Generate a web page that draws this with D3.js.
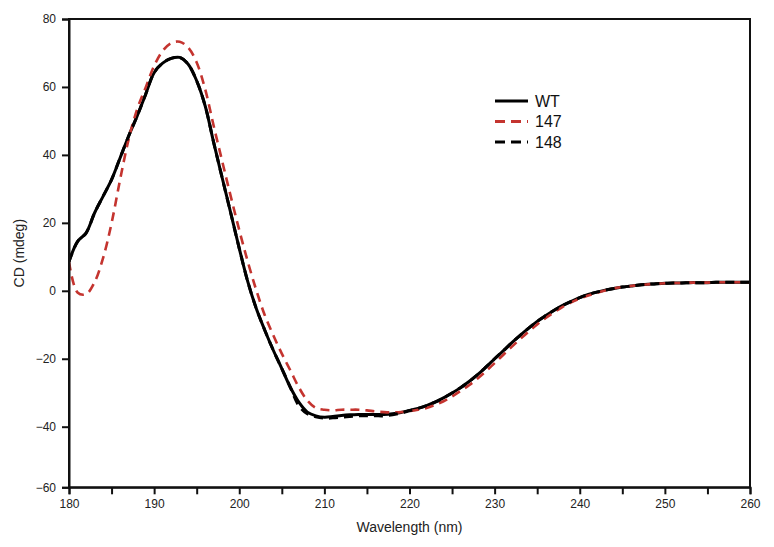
<!DOCTYPE html>
<html><head><meta charset="utf-8">
<script src="https://cdn.jsdelivr.net/npm/d3@7"></script>
<style>body{margin:0;background:#fff}svg{display:block}</style>
</head><body><svg id="c" width="774" height="547"></svg>
<script>
const wavelength = d3.range(180, 261);
const wt = [8.6,14.5,17.0,22.9,27.8,32.7,39.1,45.5,51.4,57.8,
 64.2,67.0,68.4,68.7,66.7,61.8,54.4,43.6,33.2,22.9,
 12.5,2.7,-5.2,-11.6,-17.5,-22.9,-28.4,-32.8,-35.7,-36.8,
 -37.2,-37.0,-36.7,-36.5,-36.4,-36.4,-36.4,-36.4,-36.2,-35.8,
 -35.2,-34.6,-33.8,-32.8,-31.5,-30.1,-28.5,-26.7,-24.7,-22.4,
 -20.0,-17.7,-15.3,-13.1,-11.0,-9.0,-7.3,-5.7,-4.3,-3.1,
 -2.0,-1.1,-0.4,0.2,0.7,1.1,1.4,1.7,1.9,2.1,
 2.2,2.3,2.3,2.4,2.4,2.4,2.5,2.5,2.5,2.5,2.5];
const m147 = [8.6,-0.5,-1.0,2.5,9.6,19.9,32.7,44.5,53.4,59.8,
 66.2,70.6,72.9,73.3,71.6,67.2,59.3,48.5,38.1,27.8,
 17.9,8.6,0.2,-7.2,-13.1,-18.5,-23.4,-28.4,-32.3,-34.5,
 -35.0,-35.2,-35.0,-35.0,-35.0,-35.2,-35.5,-35.7,-35.8,-35.7,
 -35.4,-35.0,-34.5,-33.6,-32.5,-31.1,-29.5,-27.8,-25.8,-23.6,
 -21.3,-18.9,-16.5,-14.2,-12.0,-9.9,-8.0,-6.3,-4.7,-3.4,
 -2.3,-1.4,-0.6,0.1,0.7,1.1,1.4,1.7,1.9,2.1,
 2.2,2.3,2.3,2.4,2.4,2.4,2.5,2.5,2.5,2.5,2.5];
const m148 = [8.6,14.5,17.0,22.9,27.8,32.7,39.1,45.5,51.4,57.8,
 64.2,67.0,68.4,68.7,66.7,61.8,54.4,43.6,33.2,22.9,
 12.5,2.7,-5.2,-11.6,-17.5,-22.9,-28.4,-33.8,-36.2,-37.1,
 -37.5,-37.4,-37.2,-37.0,-36.8,-36.8,-36.8,-36.8,-36.5,-36.0,
 -35.3,-34.6,-33.8,-32.8,-31.5,-30.1,-28.5,-26.7,-24.7,-22.4,
 -20.0,-17.7,-15.3,-13.1,-11.0,-9.0,-7.3,-5.7,-4.3,-3.1,
 -2.0,-1.1,-0.4,0.2,0.7,1.1,1.4,1.7,1.9,2.1,
 2.2,2.3,2.3,2.4,2.4,2.4,2.5,2.5,2.5,2.5,2.5];
const seriesNames = ["WT","147","148"];
const xTicks = [180,190,200,210,220,230,240,250,260];
const xMinor = [185,195,205,215,225,235,245,255];
const yTicks = [-60,-40,-20,0,20,40,60,80];

const svg = d3.select("#c");
const L=69,R=750,T=19,B=487.3;
const x = d3.scaleLinear().domain([180,260]).range([L,R]);
const y = d3.scaleLinear().domain([-60,-40,80]).range([B,426.7,T]);
const font = "Liberation Sans, Arial, sans-serif";

const series = [
 {name:seriesNames[0], vals:wt, color:"#000", dash:null, w:3},
 {name:seriesNames[1], vals:m147, color:"#c4342f", dash:"9,6", w:2.6},
 {name:seriesNames[2], vals:m148, color:"#000", dash:"9,6", w:3}
];
const line = d3.line().x(d=>x(d[0])).y(d=>y(d[1])).curve(d3.curveCatmullRom.alpha(0.5));
svg.append("clipPath").attr("id","cp").append("rect").attr("x",L).attr("y",T).attr("width",R-L).attr("height",B-T);
const g = svg.append("g").attr("clip-path","url(#cp)");
series.forEach(s=>{
  g.append("path").datum(wavelength.map((w,i)=>[w,s.vals[i]]))
   .attr("d",line).attr("fill","none").attr("stroke",s.color)
   .attr("stroke-width",s.w).attr("stroke-dasharray",s.dash)
   .attr("stroke-linejoin","round");
});

svg.append("rect").attr("x",L).attr("y",T).attr("width",R-L).attr("height",B-T)
  .attr("fill","none").attr("stroke","#111").attr("stroke-width",2);

svg.append("g").attr("transform",`translate(0,${B})`)
  .call(d3.axisBottom(x).tickValues(xTicks).tickSize(7).tickPadding(5).tickFormat(d3.format("d")));
svg.append("g").attr("transform",`translate(0,${B})`)
  .call(d3.axisBottom(x).tickValues(xMinor).tickSize(7).tickFormat(""))
  .call(g=>g.select(".domain").remove());
svg.append("g").attr("transform",`translate(${L},0)`)
  .call(d3.axisLeft(y).tickValues(yTicks).tickSize(7).tickPadding(6).tickFormat(d3.format("d")));
svg.selectAll(".tick line").attr("stroke","#111").attr("stroke-width",2);
svg.selectAll(".domain").attr("stroke","#111").attr("stroke-width",2);
svg.selectAll(".tick text").attr("font-family",font).attr("font-size",12).attr("fill","#222");

svg.append("text").attr("x",(L+R)/2).attr("y",532).attr("text-anchor","middle")
  .attr("font-family",font).attr("font-size",14).attr("fill","#222").text("Wavelength (nm)");
svg.append("text").attr("transform",`translate(24,${(T+B)/2}) rotate(-90)`).attr("text-anchor","middle")
  .attr("font-family",font).attr("font-size",14).attr("fill","#222").text("CD (mdeg)");

const lg = svg.append("g");
series.forEach((s,i)=>{
  const yy = 101 + i*20.5;
  lg.append("line").attr("x1",495).attr("x2",528).attr("y1",yy).attr("y2",yy)
    .attr("stroke",s.color).attr("stroke-width",3).attr("stroke-dasharray",s.dash?"10,6":null);
  lg.append("text").attr("x",535).attr("y",yy+5.5).attr("font-family",font).attr("font-size",16)
    .attr("fill","#111").text(s.name);
});
</script></body></html>
